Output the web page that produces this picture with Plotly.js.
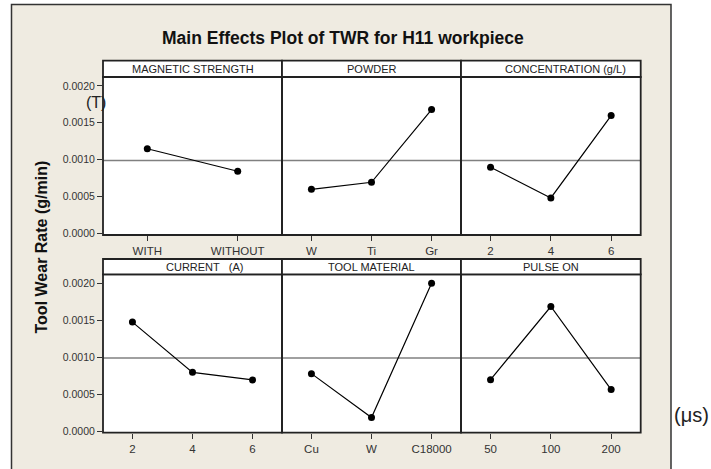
<!DOCTYPE html>
<html>
<head>
<meta charset="utf-8">
<script src="https://cdn.plot.ly/plotly-3.0.1.min.js"></script>
<style>html,body{margin:0;padding:0;background:#fff;}#chart{width:711px;height:469px;}</style>
</head>
<body>
<div id="chart"></div>
<script>
// ---- data ----
const chartTitle = 'Main Effects Plot of TWR for H11 workpiece';
const yAxisTitle = 'Tool Wear Rate (g/min)';
const factorNames = ['MAGNETIC STRENGTH', 'POWDER', 'CONCENTRATION (g/L)', 'CURRENT   (A)', 'TOOL MATERIAL', 'PULSE ON'];
const magLevels = ['WITH', 'WITHOUT'];
const magValues = [0.001148, 0.000844];
const powderLevels = ['W', 'Ti', 'Gr'];
const powderValues = [0.000599, 0.000694, 0.001679];
const concLevels = ['2', '4', '6'];
const concValues = [0.000898, 0.000482, 0.001597];
const currentLevels = ['2', '4', '6'];
const currentValues = [0.001474, 0.000795, 0.000693];
const toolLevels = ['Cu', 'W', 'C18000'];
const toolValues = [0.000778, 0.000185, 0.002000];
const pulseLevels = ['50', '100', '200'];
const pulseValues = [0.000697, 0.001685, 0.000562];
const grandMean = 0.00099;
const yTickVals = [0, 0.0005, 0.0010, 0.0015, 0.0020];
const yTickText = ['0.0000', '0.0005', '0.0010', '0.0015', '0.0020'];
const unitNotes = ['(T)', '(\u03bcs)'];

// ---- layout helpers ----
const W = 711, H = 469;
const px = x => x / W;
const py = y => 1 - y / H;
const FONT = '"Liberation Sans", Arial, sans-serif';

const panels = [
  {levels: magLevels, values: magValues},
  {levels: powderLevels, values: powderValues},
  {levels: concLevels, values: concValues},
  {levels: currentLevels, values: currentValues},
  {levels: toolLevels, values: toolValues},
  {levels: pulseLevels, values: pulseValues}
];
const cols = [[103, 282], [282, 461], [461, 640.7]];
const rows = [{strip: [60.7, 77], plot: [77, 235]}, {strip: [259, 274.3], plot: [274.3, 432.7]}];
const stripLabelX = [192.5, 371.5, 565, 204.5, 371.5, 551];

const traces = [];
const layout = {
  width: W, height: H,
  margin: {l: 0, r: 0, t: 0, b: 0, pad: 0},
  paper_bgcolor: '#efebe1',
  plot_bgcolor: '#ffffff',
  showlegend: false,
  font: {family: FONT, color: '#222'},
  shapes: [],
  annotations: []
};

// white page outside the beige frame (right side, top strip, left strip)
layout.shapes.push({type: 'rect', xref: 'paper', yref: 'paper', layer: 'below',
  x0: px(671), x1: 1.01, y0: -0.01, y1: 1.01,
  fillcolor: '#ffffff', line: {width: 0}});
layout.shapes.push({type: 'rect', xref: 'paper', yref: 'paper', layer: 'below',
  x0: -0.01, x1: 1.01, y0: py(4.5), y1: 1.01,
  fillcolor: '#ffffff', line: {width: 0}});
layout.shapes.push({type: 'rect', xref: 'paper', yref: 'paper', layer: 'below',
  x0: -0.01, x1: px(11.5), y0: -0.01, y1: 1.01,
  fillcolor: '#ffffff', line: {width: 0}});
// frame border
layout.shapes.push({type: 'path', xref: 'paper', yref: 'paper', layer: 'above',
  path: 'M' + px(11.5) + ',-0.02 L' + px(11.5) + ',' + py(4.5) + ' L' + px(671) + ',' + py(4.5) + ' L' + px(671) + ',-0.02',
  line: {color: '#333', width: 1.5}});

panels.forEach((p, i) => {
  const n = i + 1;
  const c = cols[i % 3];
  const r = rows[Math.floor(i / 3)];
  const xa = 'xaxis' + n, ya = 'yaxis' + n;
  const xr = 'x' + n, yr = 'y' + n;
  traces.push({
    type: 'scatter', mode: 'lines+markers',
    x: p.levels, y: p.values,
    xaxis: xr, yaxis: yr,
    line: {color: '#000', width: 1.2},
    marker: {color: '#000', size: 7},
    hoverinfo: 'skip', cliponaxis: false
  });
  const nLev = p.levels.length;
  layout[xa] = {
    type: 'category',
    domain: [px(c[0]), px(c[1])],
    anchor: yr,
    range: [-0.49, nLev - 0.51],
    showgrid: false, zeroline: false, showline: false,
    ticks: 'outside', ticklen: 5, tickwidth: 1, tickcolor: '#333',
    tickfont: {family: FONT, size: 11.5, color: '#333'},
    fixedrange: true
  };
  layout[ya] = {
    domain: [py(r.plot[1]), py(r.plot[0])],
    anchor: xr,
    range: [-0.00002, 0.00212],
    showgrid: false, zeroline: false, showline: false,
    tickvals: yTickVals, ticktext: yTickText,
    ticks: (i % 3 === 0) ? 'outside' : '',
    showticklabels: (i % 3 === 0),
    ticklen: 5, tickwidth: 1, tickcolor: '#333',
    tickfont: {family: FONT, size: 10.5, color: '#333'},
    fixedrange: true
  };
  // grand mean reference line
  layout.shapes.push({type: 'line', xref: xr + ' domain', yref: yr, layer: 'below',
    x0: 0, x1: 1, y0: grandMean, y1: grandMean,
    line: {color: '#808080', width: 1.4}});
  // plot frame
  layout.shapes.push({type: 'rect', xref: 'paper', yref: 'paper', layer: 'above',
    x0: px(c[0]), x1: px(c[1]), y0: py(r.plot[1]), y1: py(r.plot[0]),
    fillcolor: 'rgba(0,0,0,0)', line: {color: '#222', width: 1.8}});
  // strip
  layout.shapes.push({type: 'rect', xref: 'paper', yref: 'paper', layer: 'above',
    x0: px(c[0]), x1: px(c[1]), y0: py(r.strip[1]), y1: py(r.strip[0]),
    fillcolor: '#ffffff', line: {color: '#222', width: 1.8}});
  layout.annotations.push({xref: 'paper', yref: 'paper',
    x: px(stripLabelX[i]), y: py((r.strip[0] + r.strip[1]) / 2),
    xanchor: 'center', yanchor: 'middle', showarrow: false,
    text: factorNames[i], font: {family: FONT, size: 11, color: '#222'}});
});

// chart title
layout.annotations.push({xref: 'paper', yref: 'paper', x: px(343), y: py(38),
  xanchor: 'center', yanchor: 'middle', showarrow: false,
  text: '<b>' + chartTitle + '</b>', font: {family: FONT, size: 17.5, color: '#111'}});
// y axis title
layout.annotations.push({xref: 'paper', yref: 'paper', x: px(41), y: py(247.5),
  xanchor: 'center', yanchor: 'middle', showarrow: false, textangle: -90,
  text: '<b>' + yAxisTitle + '</b>', font: {family: FONT, size: 16, color: '#111'}});
// unit notes
layout.annotations.push({xref: 'paper', yref: 'paper', x: px(96), y: py(103),
  xanchor: 'center', yanchor: 'middle', showarrow: false,
  text: unitNotes[0], font: {family: FONT, size: 16, color: '#222'}});
layout.annotations.push({xref: 'paper', yref: 'paper', x: px(691), y: py(415),
  xanchor: 'center', yanchor: 'middle', showarrow: false,
  text: unitNotes[1], font: {family: FONT, size: 20, color: '#222'}});

Plotly.newPlot('chart', traces, layout, {staticPlot: true, displayModeBar: false});
</script>
</body>
</html>
